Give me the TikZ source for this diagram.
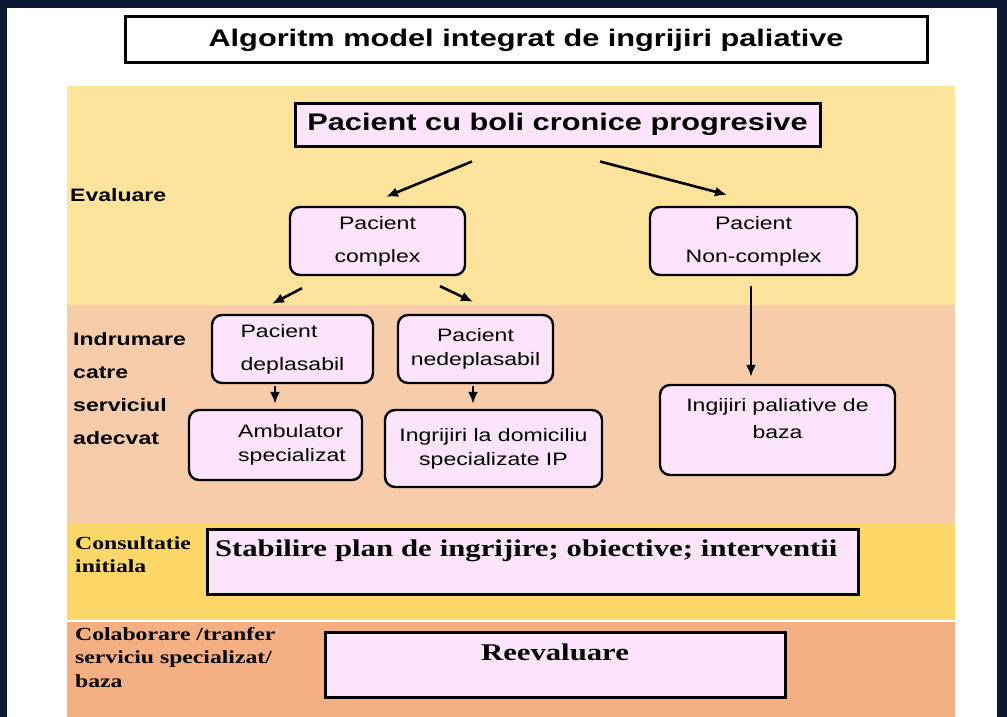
\documentclass[tikz,border=0pt]{standalone}
\usepackage{fontspec}
\setmainfont{Liberation Sans}[FakeStretch=1.28]
\newfontfamily\tnr{Liberation Serif}[FakeStretch=1.28]
\usetikzlibrary{arrows.meta}
\definecolor{navy}{HTML}{0B1933}
\definecolor{evalband}{HTML}{FDE39B}
\definecolor{indband}{HTML}{F6CCAA}
\definecolor{consband}{HTML}{FDD868}
\definecolor{colband}{HTML}{F4B083}
\definecolor{boxpink}{HTML}{FCE4FC}
\begin{document}
\begin{tikzpicture}[x=1pt,y=-1pt,
    flatbox/.style={shape=rectangle,draw=black,line width=3pt,fill=boxpink},
    roundbox/.style={shape=rectangle,draw=black,line width=2.4pt,fill=boxpink,rounded corners=10pt,align=center},
    sidelabel/.style={anchor=west,inner sep=0pt,align=left,font=\bfseries\fontsize{18}{33}\selectfont},
    serlabel/.style={anchor=west,inner sep=0pt,align=left,font=\tnr\bfseries\fontsize{18.5}{23.5}\selectfont},
    arr/.style={-{Latex[length=12pt,width=10pt]},line width=2.6pt}]
  \useasboundingbox (0,0) rectangle (1007,717);
  \fill[navy] (0,0) rectangle (1007,717);
  \fill[white] (7,8) rectangle (997,717);
  \fill[evalband] (67,86) rectangle (955,305);
  \fill[indband] (67,305) rectangle (955,523);
  \fill[consband] (67,523) rectangle (955,620);
  \fill[colband] (67,622) rectangle (955,717);

  \node[flatbox,fill=white,minimum width=802pt,minimum height=46pt,font=\bfseries\fontsize{24}{28}\selectfont] (title) at (526,40) {Algoritm model integrat de ingrijiri paliative};

  \node[sidelabel] (evaluare) at (70,195) {Evaluare};
  \node[sidelabel] (indrumare) at (73,388.5) {Indrumare\\catre\\serviciul\\adecvat};
  \node[serlabel] (consultatie) at (75,554.5) {Consultatie\\initiala};
  \node[serlabel] (colaborare) at (75,657.5) {Colaborare /tranfer\\serviciu specializat/\\baza};

  \node[flatbox,minimum width=525pt,minimum height=43pt,font=\bfseries\fontsize{24}{28}\selectfont] (boli) at (557.5,124.5) {Pacient cu boli cronice progresive};

  \node[roundbox,minimum width=175pt,minimum height=68pt,font=\fontsize{18}{33}\selectfont] (complex) at (377.5,241) {Pacient\\complex};
  \node[roundbox,minimum width=207pt,minimum height=68pt,font=\fontsize{18}{33}\selectfont] (noncomplex) at (753.5,241) {Pacient\\Non-complex};

  \node[roundbox,align=left,minimum width=161pt,minimum height=68pt,font=\fontsize{18}{33}\selectfont] (deplasabil) at (292.5,349) {Pacient\\deplasabil};
  \node[roundbox,minimum width=155pt,minimum height=68pt,font=\fontsize{18}{24}\selectfont] (nedeplasabil) at (475.5,349) {Pacient\\nedeplasabil};

  \node[roundbox,align=left,minimum width=173pt,minimum height=70pt,font=\fontsize{18}{24}\selectfont] (ambulator) at (275.5,445) {\hspace*{33pt}Ambulator\\\hspace*{33pt}specializat};
  \node[roundbox,minimum width=217pt,minimum height=77pt,font=\fontsize{18}{24}\selectfont] (domiciliu) at (493.5,448.5) {Ingrijiri la domiciliu\\specializate IP};
  \node[roundbox,minimum width=235pt,minimum height=90pt,text width=215pt,text height=16pt,text depth=54pt,font=\fontsize{18}{27}\selectfont] (baza) at (777.5,430) {Ingijiri paliative de\\baza};

  \node[flatbox,minimum width=651pt,minimum height=65pt,inner xsep=8pt,text width=635pt,align=left,text height=18pt,text depth=29pt,font=\tnr\bfseries\fontsize{24}{28}\selectfont] (plan) at (532.5,561.5) {Stabilire plan de ingrijire; obiective; interventii};
  \node[flatbox,minimum width=460pt,minimum height=65pt,text height=18pt,text depth=27pt,font=\tnr\bfseries\fontsize{24}{28}\selectfont] (reevaluare) at (555,664.5) {Reevaluare};

  \draw[arr] ([shift={(-85.5,14)}]boli.south) -- ([shift={(8.5,-9)}]complex.north);
  \draw[arr] ([shift={(42.5,14)}]boli.south) -- ([shift={(-26.5,-11)}]noncomplex.north);
  \draw[arr] ([shift={(-75.5,12)}]complex.south) -- ([shift={(-20.5,-10)}]deplasabil.north);
  \draw[arr] ([shift={(62.5,10)}]complex.south) -- ([shift={(-2.5,-12)}]nedeplasabil.north);
  \draw[arr] ([shift={(-17.5,2)}]deplasabil.south) -- ([shift={(-0.5,-5)}]ambulator.north);
  \draw[arr] ([shift={(-2.5,2)}]nedeplasabil.south) -- ([shift={(-20.5,-5)}]domiciliu.north);
  \draw[arr] ([shift={(-2.5,10)}]noncomplex.south) -- ([shift={(-26.5,-7)}]baza.north);
\end{tikzpicture}
\end{document}
